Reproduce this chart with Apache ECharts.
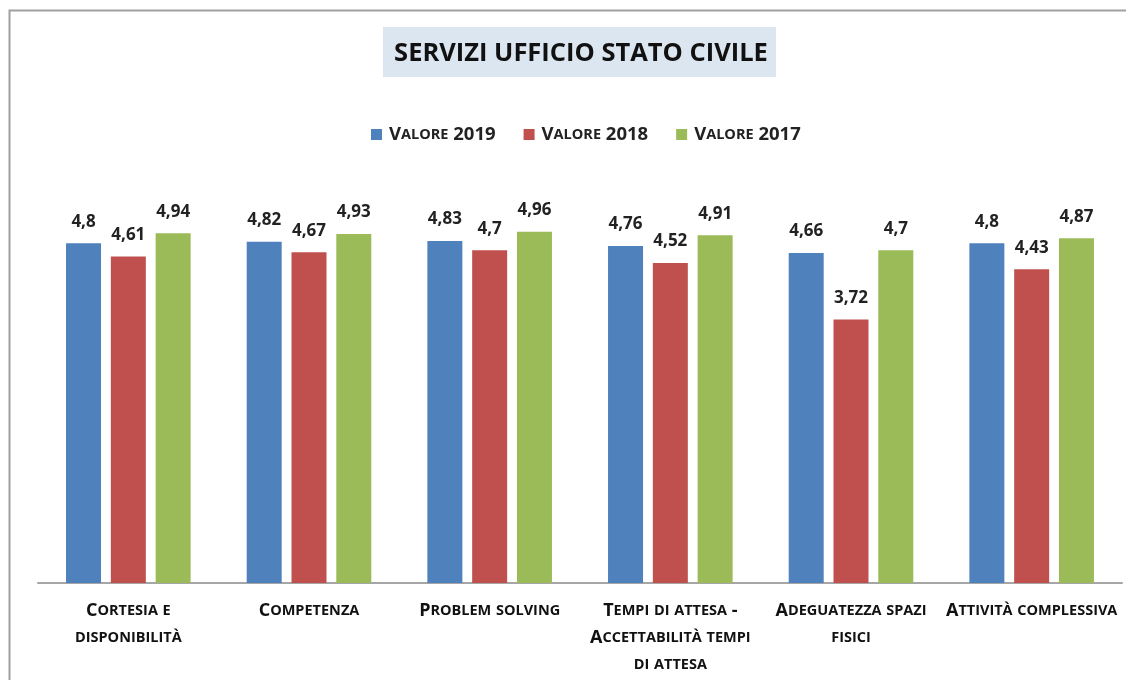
<!DOCTYPE html>
<html>
<head>
<meta charset="utf-8">
<script src="https://cdn.jsdelivr.net/npm/echarts@6/dist/echarts.min.js"></script>
<style>html,body{margin:0;padding:0;background:#fff}#c{width:1126px;height:680px}</style>
</head>
<body>
<div id="c"></div>
<script>
const title = 'SERVIZI UFFICIO STATO CIVILE';
const categories = ['Cortesia e\ndisponibilità', 'Competenza', 'Problem solving', 'Tempi di attesa -\nAccettabilità tempi\ndi attesa', 'Adeguatezza spazi\nfisici', 'Attività complessiva'];
const seriesNames = ['Valore 2019', 'Valore 2018', 'Valore 2017'];
const values2019 = [4.8, 4.82, 4.83, 4.76, 4.66, 4.8];
const values2018 = [4.61, 4.67, 4.7, 4.52, 3.72, 4.43];
const values2017 = [4.94, 4.93, 4.96, 4.91, 4.7, 4.87];
const colors = ['#4F81BD', '#C0504D', '#9BBB59'];

function smallCaps(s, big, sm) {
  return s.split('\n').map(line => {
    let out = '', cur = null, buf = '';
    for (const ch of line) {
      const isLower = ch !== ch.toUpperCase();
      const st = isLower ? sm : big;
      const c = ch.toUpperCase();
      if (st !== cur) { if (buf) out += '{' + cur + '|' + buf + '}'; buf = ''; cur = st; }
      buf += c;
    }
    if (buf) out += '{' + cur + '|' + buf + '}';
    return out;
  }).join('\n');
}

const FONT = '"Open Sans", "Liberation Sans", Arial, sans-serif';
const chart = echarts.init(document.getElementById('c'), null, {renderer: 'canvas'});
const mk = (name, data, color) => ({
  name, type: 'bar', data, barWidth: 35, barGap: '28%',
  itemStyle: {color},
  label: {show: true, position: 'top', distance: 13, color: '#222', fontWeight: 'bold', fontSize: 17, fontFamily: FONT,
    formatter: p => String(p.value).replace('.', ',')}
});
chart.setOption({
  animation: false,
  color: colors,
  graphic: [
    {type: 'rect', shape: {x: 9.5, y: 10.5, width: 1300, height: 1000}, style: {fill: 'none', stroke: '#a0a0a0', lineWidth: 2}},
    {type: 'rect', shape: {x: 383, y: 27, width: 393, height: 50}, style: {fill: '#DCE6F1'}},
    {type: 'text', x: 581, y: 54, style: {text: title, fill: '#111', font: 'bold 25.5px ' + FONT, textAlign: 'center', textVerticalAlign: 'middle'}}
  ],
  legend: {
    top: 120, left: 366, itemWidth: 11, itemHeight: 11, itemGap: 28, icon: 'rect',
    formatter: n => smallCaps(n, 'b', 's'),
    textStyle: {color: '#222', padding: [0, 0, 0, 2], rich: {
      b: {fontSize: 18.5, fontWeight: 'bold', fontFamily: FONT, color: '#222'},
      s: {fontSize: 14.5, fontWeight: 'bold', fontFamily: FONT, color: '#222'}
    }}
  },
  grid: {left: 38, right: 4, top: 229, bottom: 97, containLabel: false},
  xAxis: {
    type: 'category', data: categories,
    axisLine: {lineStyle: {color: '#a6a6a6', width: 2}},
    axisTick: {show: false},
    axisLabel: {interval: 0, margin: 14, color: '#111', formatter: v => smallCaps(v, 'b', 's'),
      rich: {
        b: {fontSize: 18, fontWeight: 'bold', fontFamily: FONT, color: '#111', lineHeight: 27},
        s: {fontSize: 14.5, fontWeight: 'bold', fontFamily: FONT, color: '#111', lineHeight: 27}
      }}
  },
  yAxis: {type: 'value', min: 0, max: 5, show: false, splitLine: {show: false}},
  series: [mk(seriesNames[0], values2019, colors[0]), mk(seriesNames[1], values2018, colors[1]), mk(seriesNames[2], values2017, colors[2])]
});
</script>
</body>
</html>
